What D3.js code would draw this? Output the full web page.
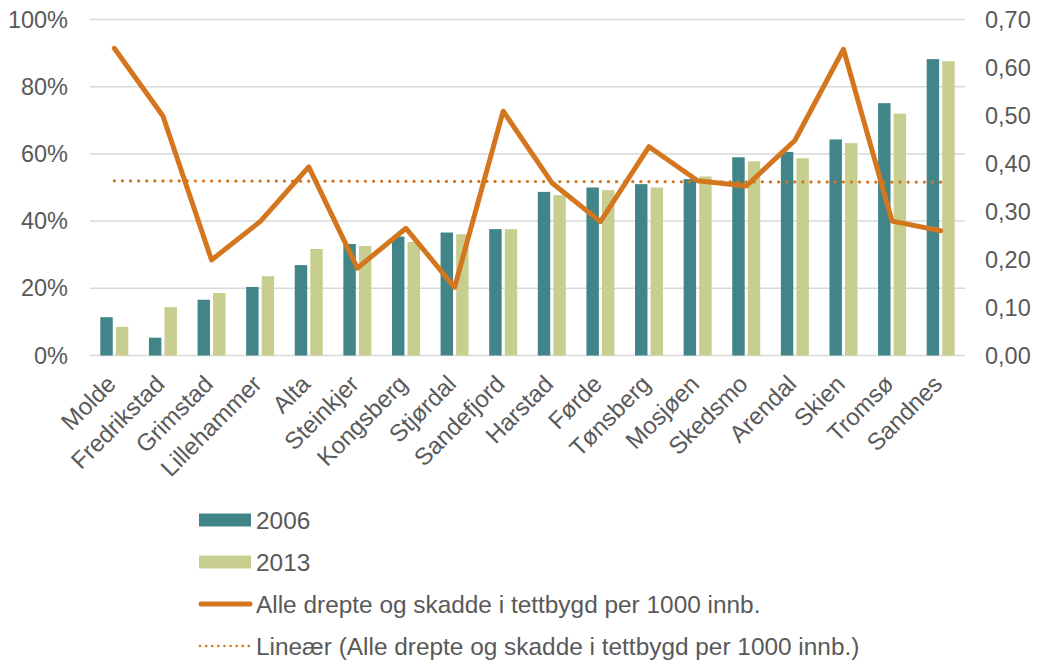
<!DOCTYPE html>
<html>
<head>
<meta charset="utf-8">
<script src="https://cdn.jsdelivr.net/npm/d3@7"></script>
<style>
  body { margin: 0; background: #fff; }
  svg text { font-family: "Liberation Sans", Arial, sans-serif; fill: #595959; }
</style>
</head>
<body>
<svg id="chart" width="1038" height="663"></svg>
<script>
const cities = ["Molde", "Fredrikstad", "Grimstad", "Lillehammer", "Alta", "Steinkjer", "Kongsberg", "Stjørdal", "Sandefjord", "Harstad", "Førde", "Tønsberg", "Mosjøen", "Skedsmo", "Arendal", "Skien", "Tromsø", "Sandnes"];
const share2006 = [0.114, 0.053, 0.166, 0.204, 0.269, 0.332, 0.354, 0.366, 0.376, 0.487, 0.500, 0.510, 0.525, 0.590, 0.606, 0.643, 0.751, 0.882];
const share2013 = [0.085, 0.144, 0.186, 0.236, 0.317, 0.326, 0.338, 0.361, 0.376, 0.477, 0.492, 0.500, 0.533, 0.578, 0.587, 0.632, 0.720, 0.876];
const injured = [0.640, 0.499, 0.199, 0.279, 0.393, 0.182, 0.265, 0.142, 0.509, 0.360, 0.279, 0.435, 0.364, 0.353, 0.448, 0.638, 0.280, 0.260];
const leftTicks = [0, 0.2, 0.4, 0.6, 0.8, 1.0];
const rightTicks = [0, 0.1, 0.2, 0.3, 0.4, 0.5, 0.6, 0.7];

const teal = "#418589", sage = "#C8CE8F", orange = "#D4761E";
const margin = { top: 19.5, left: 90, right: 73, bottom: 307.5 };
const width = 1038 - margin.left - margin.right;
const height = 663 - margin.top - margin.bottom;

const svg = d3.select("#chart");
const g = svg.append("g").attr("transform", `translate(${margin.left},${margin.top})`);

const x = d3.scaleBand().domain(cities).range([0, width]);
const x1 = d3.scaleBand().domain(["2006", "2013"]).range([0, 28]).paddingInner(0.2);
const yL = d3.scaleLinear().domain([0, 1]).range([height, 0]);
const yR = d3.scaleLinear().domain([0, 0.7]).range([height, 0]);

// gridlines
g.append("g").selectAll("line").data(leftTicks).join("line")
  .attr("x1", 0).attr("x2", width)
  .attr("y1", d => yL(d)).attr("y2", d => yL(d))
  .attr("stroke", "#D9D9D9").attr("stroke-width", 1.5);

// left axis
g.append("g")
  .call(d3.axisLeft(yL).tickValues(leftTicks).tickFormat(d3.format(".0%")).tickSize(0).tickPadding(22))
  .call(a => a.select(".domain").remove())
  .selectAll("text").style("font-size", "23.5px");

// right axis
g.append("g").attr("transform", `translate(${width},0)`)
  .call(d3.axisRight(yR).tickValues(rightTicks).tickFormat(d => d.toFixed(2).replace(".", ",")).tickSize(0).tickPadding(20))
  .call(a => a.select(".domain").remove())
  .selectAll("text").style("font-size", "23.5px");

// bars
const bx = (i) => x(cities[i]) + (x.bandwidth() - 28) / 2;
g.append("g").selectAll("rect").data(share2006).join("rect")
  .attr("x", (d, i) => bx(i) + x1("2006")).attr("width", x1.bandwidth())
  .attr("y", d => yL(d)).attr("height", d => height - yL(d))
  .attr("fill", teal);
g.append("g").selectAll("rect").data(share2013).join("rect")
  .attr("x", (d, i) => bx(i) + x1("2013")).attr("width", x1.bandwidth())
  .attr("y", d => yL(d)).attr("height", d => height - yL(d))
  .attr("fill", sage);

// x labels
g.append("g").attr("transform", `translate(0,${height})`)
  .call(d3.axisBottom(x).tickSize(0).tickPadding(0))
  .call(a => a.select(".domain").remove())
  .selectAll("text")
  .style("font-size", "24px")
  .attr("text-anchor", "end")
  .attr("dy", 0)
  .attr("transform", "translate(3,30) rotate(-45)");

// linear trend (least squares on index)
const n = injured.length;
const xm = d3.mean(injured, (d, i) => i), ym = d3.mean(injured);
const slope = d3.sum(injured, (d, i) => (i - xm) * (d - ym)) / d3.sum(injured, (d, i) => (i - xm) ** 2);
const trend = [0, n - 1].map(i => [i, ym + slope * (i - xm)]);
const cx = i => x(cities[i]) + x.bandwidth() / 2;

g.append("path")
  .datum(trend)
  .attr("d", d3.line().x(d => cx(d[0])).y(d => yR(d[1])))
  .attr("fill", "none").attr("stroke", orange).attr("stroke-width", 3.2)
  .attr("stroke-linecap", "round").attr("stroke-dasharray", "0.1 8");

g.append("path")
  .datum(injured)
  .attr("d", d3.line().x((d, i) => cx(i)).y(d => yR(d)))
  .attr("fill", "none").attr("stroke", orange).attr("stroke-width", 5)
  .attr("stroke-linejoin", "round").attr("stroke-linecap", "round");

// legend
const legend = svg.append("g").attr("transform", "translate(199,520)");
const items = [
  { label: "2006", type: "rect", color: teal },
  { label: "2013", type: "rect", color: sage },
  { label: "Alle drepte og skadde i tettbygd per 1000 innb.", type: "line" },
  { label: "Lineær (Alle drepte og skadde i tettbygd per 1000 innb.)", type: "dot" }
];
items.forEach((it, i) => {
  const row = legend.append("g").attr("transform", `translate(0,${i * 42})`);
  if (it.type === "rect") {
    row.append("rect").attr("x", 0).attr("y", -6.5).attr("width", 52).attr("height", 13).attr("fill", it.color);
  } else if (it.type === "line") {
    row.append("line").attr("x1", 2).attr("x2", 51).attr("y1", 0).attr("y2", 0)
      .attr("stroke", orange).attr("stroke-width", 5).attr("stroke-linecap", "round");
  } else {
    row.append("line").attr("x1", 1).attr("x2", 51).attr("y1", 0).attr("y2", 0)
      .attr("stroke", orange).attr("stroke-width", 2.5).attr("stroke-linecap", "round")
      .attr("stroke-dasharray", "0.1 6");
  }
  row.append("text").attr("x", 57).attr("y", 0).attr("dy", "0.35em")
    .style("font-size", "24.4px").text(it.label);
});
</script>
</body>
</html>
